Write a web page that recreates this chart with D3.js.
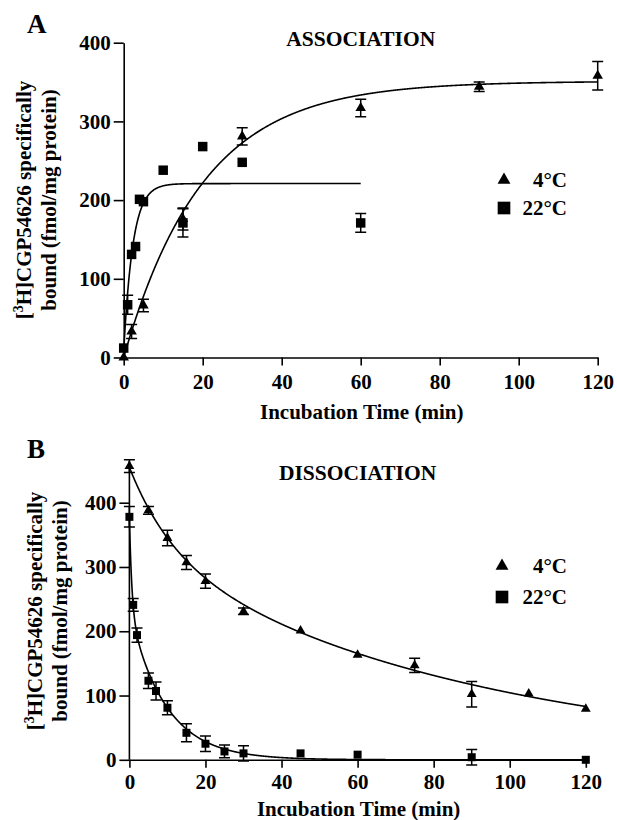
<!DOCTYPE html>
<html>
<head>
<meta charset="utf-8">
<script src="https://cdn.jsdelivr.net/npm/d3@7"></script>
<style>
    body { margin: 0; background: #fff; }
    svg text { font-family: "Liberation Serif", "Times New Roman", serif; font-weight: bold; fill: #000; }
    .axis path, .axis line { stroke: #000; stroke-width: 1.6px; }
    .axis text { font-size: 21px; }
</style>
</head>
<body>
<svg id="chart" width="617" height="820"></svg>
<script>
// Panel A - association
const assocTicksX = [0, 20, 40, 60, 80, 100, 120];
const assocTicksY = [0, 100, 200, 300, 400];
const assoc4Time = [0, 2, 5, 15, 30, 60, 90, 120];
const assoc4Bound = [0, 33, 66, 176, 281, 317, 344, 358];
const assoc4Err = [0, 9, 8, 14, 11, 11, 6, 18];
const assoc22Time = [0, 1, 2, 3, 4, 5, 10, 15, 20, 30, 60];
const assoc22Bound = [12, 67, 131, 141, 201, 198, 238, 171, 268, 248, 171];
const assoc22Err = [0, 12, 0, 0, 0, 0, 0, 18, 0, 0, 12];
// one-phase association fits: y0, plateau, k, last time
const assoc4Fit = [0, 351, 0.05, 120];
const assoc22Fit = [8, 221, 0.43, 60];

// Panel B - dissociation
const dissTicksX = [0, 20, 40, 60, 80, 100, 120];
const dissTicksY = [0, 100, 200, 300, 400];
const diss4Time = [0, 5, 10, 15, 20, 30, 45, 60, 75, 90, 105, 120];
const diss4Bound = [457, 388, 345, 307, 278, 231, 201, 163, 147, 102, 103, 79];
const diss4Err = [10, 6, 12, 11, 11, 5, 0, 0, 11, 20, 0, 0];
const diss22Time = [0, 1, 2, 5, 7, 10, 15, 20, 25, 30, 45, 60, 90, 120];
const diss22Bound = [378, 241, 194, 123, 107, 81, 42, 25, 13, 10, 10, 8, 4, 0];
const diss22Err = [16, 10, 11, 12, 14, 11, 14, 12, 10, 12, 0, 0, 12, 0];
// two-phase decay fits: a1, k1, a2, k2
const diss4Fit = [127, 0.0883, 328, 0.01146];
const diss22Fit = [147, 1.52, 231, 0.105];

const svg = d3.select('#chart');

function zip(times, values, errs) {
    return times.map((t, i) => ({ t: t, v: values[i], e: errs[i] }));
}

function drawPanel(opts) {
    const g = svg.append('g');
    const x = d3.scaleLinear().domain([0, 120]).range(opts.xRange);
    const y = d3.scaleLinear().domain([0, 400]).range(opts.yRange);
    const y0 = y(0);

    // axes
    g.append('g').attr('class', 'axis')
        .attr('transform', `translate(0,${y0})`)
        .call(d3.axisBottom(x).tickValues(opts.ticksX).tickSize(8).tickSizeOuter(0).tickPadding(opts.xPad));
    const yAxis = g.append('g').attr('class', 'axis')
        .attr('transform', `translate(${x(0)},0)`)
        .call(d3.axisLeft(y).tickValues(opts.ticksY).tickSize(10).tickSizeOuter(0).tickPadding(3));
    if (opts.yTop) {
        yAxis.select('.domain').attr('d', `M0,${y0}V${y(opts.yTop)}`);
    }

    // fit curves
    const line = d3.line().x(d => x(d[0])).y(d => y(d[1]));
    opts.fits.forEach(f => {
        const pts = d3.range(0, f.tMax + 0.001, 0.1).map(t => [t, f.fn(t)]);
        g.append('path').attr('d', line(pts))
            .attr('fill', 'none').attr('stroke', '#000').attr('stroke-width', 1.6);
    });

    // points with error bars
    opts.series.forEach(s => {
        const pts = zip(s.time, s.bound, s.err);
        pts.filter(d => d.e > 0).forEach(d => {
            const cx = x(d.t);
            g.append('path')
                .attr('d', `M${cx},${y(d.v - d.e)}V${y(d.v + d.e)}M${cx - 5.5},${y(d.v + d.e)}h11M${cx - 5.5},${y(d.v - d.e)}h11`)
                .attr('stroke', '#000').attr('stroke-width', 1.5).attr('fill', 'none');
        });
        g.selectAll(null).data(pts).enter().append('path')
            .attr('transform', d => `translate(${x(d.t)},${y(d.v)})`)
            .attr('d', d3.symbol().type(s.shape).size(s.size))
            .attr('fill', '#000');
    });

    // legend
    opts.series.forEach((s, i) => {
        const ly = opts.legendY[i];
        g.append('path')
            .attr('transform', `translate(${opts.legendX},${ly})`)
            .attr('d', d3.symbol().type(s.shape).size(s.legendSize))
            .attr('fill', '#000');
        g.append('text')
            .attr('x', 567).attr('y', ly + 7)
            .attr('text-anchor', 'end')
            .style('font-size', '21px')
            .text(s.label);
    });

    // titles and labels
    g.append('text').attr('x', 27).attr('y', opts.letterY)
        .style('font-size', '27px').text(opts.letter);
    g.append('text').attr('x', (opts.xRange[0] + opts.xRange[1]) / 2).attr('y', opts.titleY)
        .attr('text-anchor', 'middle').style('font-size', '21.5px').text(opts.title);
    g.append('text').attr('x', (opts.xRange[0] + opts.xRange[1]) / 2 + 1).attr('y', opts.xLabelY)
        .attr('text-anchor', 'middle').style('font-size', '21px').text('Incubation Time (min)');

    const yc = opts.yLabelCenter;
    const l1 = g.append('text')
        .attr('transform', `translate(${opts.yLabelX[0]},${yc}) rotate(-90)`)
        .attr('text-anchor', 'middle').style('font-size', '21px');
    l1.append('tspan').text('[');
    l1.append('tspan').attr('dy', -8).style('font-size', '14px').text('3');
    l1.append('tspan').attr('dy', 8).text('H]CGP54626 specifically');
    g.append('text')
        .attr('transform', `translate(${opts.yLabelX[1]},${yc}) rotate(-90)`)
        .attr('text-anchor', 'middle').style('font-size', '21px')
        .text('bound (fmol/mg protein)');
}

function association(f) {
    return t => f[0] + (f[1] - f[0]) * (1 - Math.exp(-f[2] * t));
}

function twoPhase(f) {
    return t => f[0] * Math.exp(-f[1] * t) + f[2] * Math.exp(-f[3] * t);
}

drawPanel({
    letter: 'A', letterY: 33,
    title: 'ASSOCIATION', titleY: 46,
    xRange: [123.7, 597.7], yRange: [357.5, 42.7],
    ticksX: assocTicksX, ticksY: assocTicksY, xPad: 9,
    xLabelY: 419, yLabelX: [31, 56], yLabelCenter: 200,
    legendX: 504, legendY: [180, 208],
    fits: [
        { fn: association(assoc4Fit), tMax: assoc4Fit[3] },
        { fn: association(assoc22Fit), tMax: assoc22Fit[3] }
    ],
    series: [
        { time: assoc4Time, bound: assoc4Bound, err: assoc4Err, shape: d3.symbolTriangle, size: 48, legendSize: 72, label: '4°C' },
        { time: assoc22Time, bound: assoc22Bound, err: assoc22Err, shape: d3.symbolSquare, size: 90, legendSize: 160, label: '22°C' }
    ]
});

drawPanel({
    letter: 'B', letterY: 458,
    title: 'DISSOCIATION', titleY: 480,
    xRange: [129.4, 585.8], yRange: [759.8, 502.7],
    ticksX: dissTicksX, ticksY: dissTicksY, xPad: 6, yTop: 465,
    xLabelY: 816, yLabelX: [42, 67], yLabelCenter: 611,
    legendX: 502, legendY: [566, 597],
    fits: [
        { fn: twoPhase(diss4Fit), tMax: 120 },
        { fn: twoPhase(diss22Fit), tMax: 120 }
    ],
    series: [
        { time: diss4Time, bound: diss4Bound, err: diss4Err, shape: d3.symbolTriangle, size: 42, legendSize: 72, label: '4°C' },
        { time: diss22Time, bound: diss22Bound, err: diss22Err, shape: d3.symbolSquare, size: 64, legendSize: 160, label: '22°C' }
    ]
});
</script>
</body>
</html>
